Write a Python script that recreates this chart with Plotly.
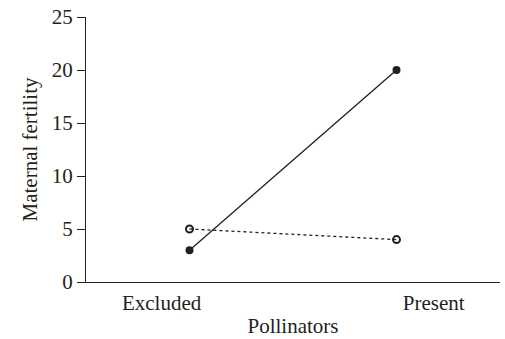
import plotly.graph_objects as go

# Pollination treatment categories and maternal fertility for two groups
categories = ["Excluded", "Present"]
group_solid = [3, 20]
group_dashed = [5, 4]
y_ticks = [0, 5, 10, 15, 20, 25]

x_pos = list(range(len(categories)))
ink = "#231f20"
font_family = "Liberation Serif, Times New Roman, serif"
font_size = 21

fig = go.Figure()

fig.add_trace(go.Scatter(
    x=x_pos, y=group_solid, mode="lines+markers",
    line=dict(color=ink, width=1.3),
    marker=dict(symbol="circle", size=8, color=ink),
    showlegend=False,
))

fig.add_trace(go.Scatter(
    x=x_pos, y=group_dashed, mode="lines+markers",
    line=dict(color=ink, width=1.3, dash="3px,3px"),
    marker=dict(symbol="circle-open", size=7, color=ink, line=dict(width=2)),
    showlegend=False,
))

# category labels sit slightly outward from the marker columns
label_shift = [-0.135, 0.18]

fig.update_layout(
    width=505, height=339,
    margin=dict(l=86, r=5, t=14, b=55),
    plot_bgcolor="white", paper_bgcolor="white",
    font=dict(family=font_family, size=font_size, color=ink),
    xaxis=dict(
        range=[-0.5, 1.5],
        tickvals=[p + s for p, s in zip(x_pos, label_shift)],
        ticktext=categories,
        ticks="outside", ticklen=2, tickcolor="rgba(0,0,0,0)",
        showline=True, linecolor=ink, linewidth=1.2,
        showgrid=False, zeroline=False,
        title=dict(text="Pollinators", font=dict(size=font_size), standoff=4),
    ),
    yaxis=dict(
        range=[0, 25],
        tickvals=y_ticks,
        ticks="outside", ticklen=8, tickwidth=1.2, tickcolor=ink,
        showline=True, linecolor=ink, linewidth=1.2,
        showgrid=False, zeroline=False,
        title=dict(text="Maternal fertility", font=dict(size=font_size), standoff=8),
    ),
)

fig.write_html("out.html")
